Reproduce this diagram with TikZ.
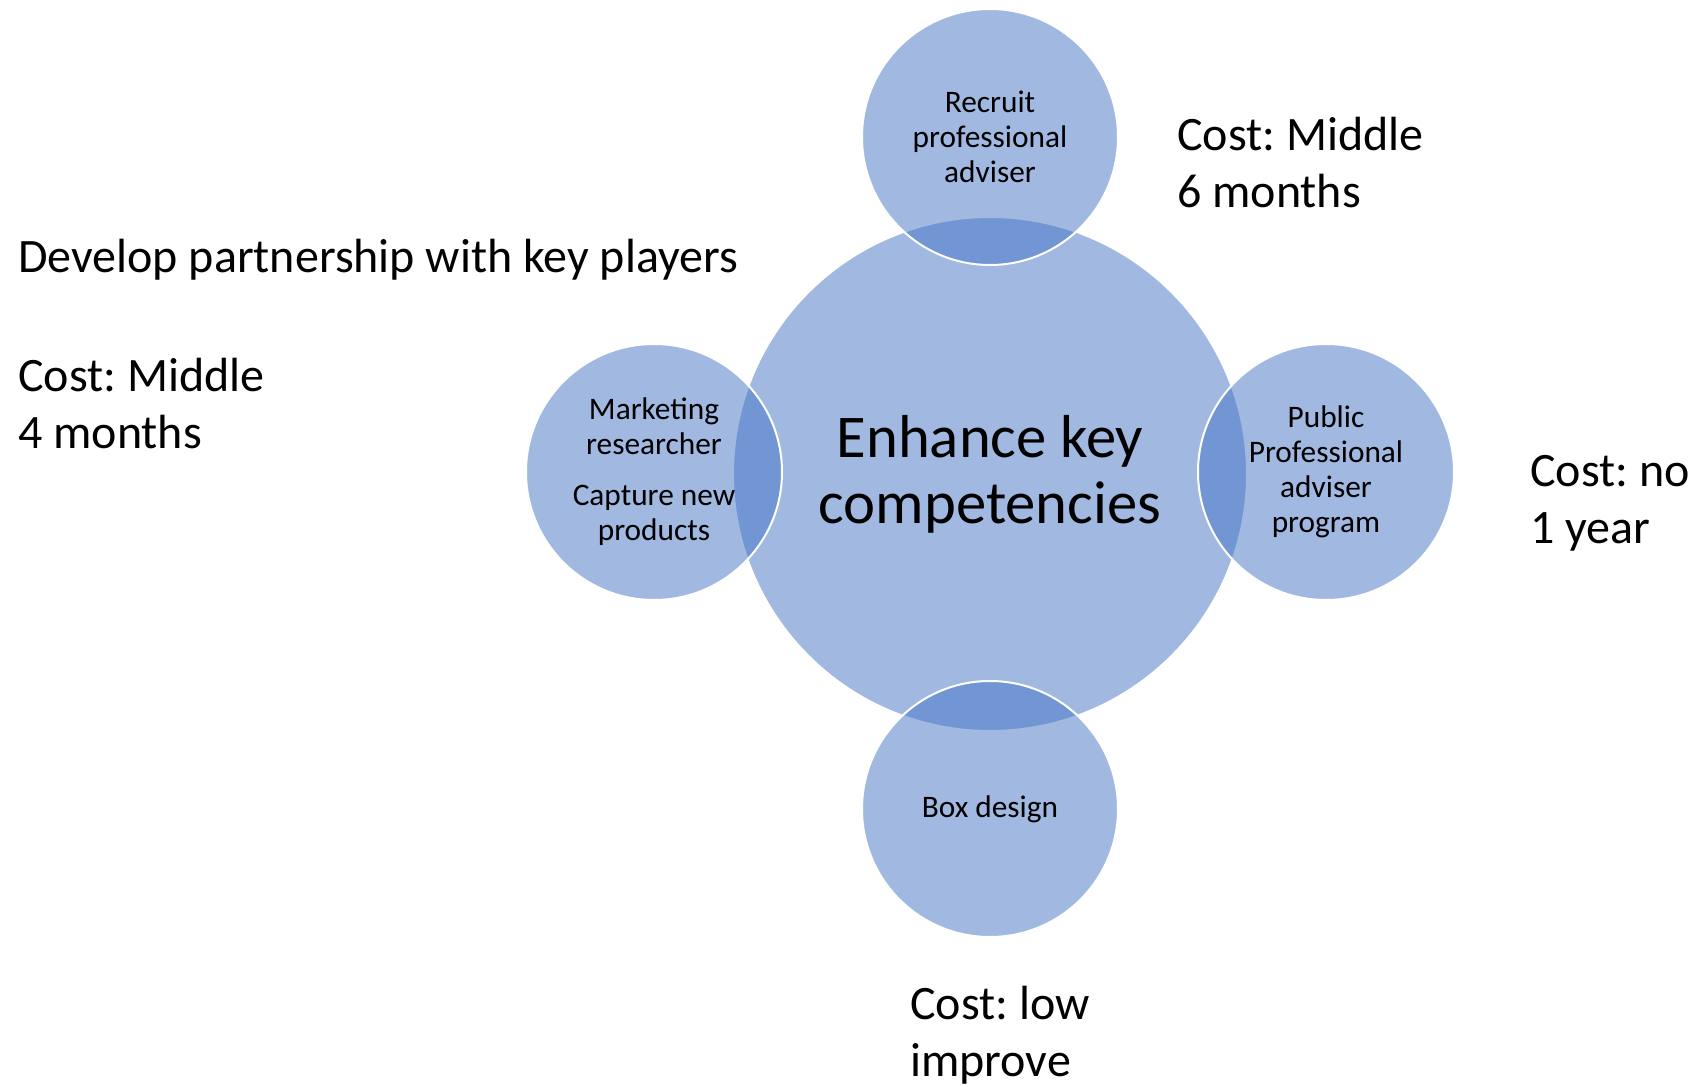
\documentclass[tikz,border=0pt]{standalone}
\usepackage{fontspec}
\setmainfont{Carlito}
\frenchspacing
\definecolor{vennblue}{RGB}{68,114,196}
\tikzset{
  venn/.style={circle, fill=vennblue, fill opacity=0.5, text opacity=1, draw=white, line width=1.5pt, align=center, inner sep=0pt},
  bigvenn/.style={venn, minimum size=385.5pt, font=\fontsize{45.5}{49.5}\selectfont},
  smallvenn/.style={venn, minimum size=192pt, font=\fontsize{23.5}{26.2}\selectfont},
  note/.style={anchor=west, align=left, inner sep=0pt, font=\fontsize{36}{42.75}\selectfont}
}
\begin{document}
\begin{tikzpicture}[x=0.75pt,y=-0.75pt]
\useasboundingbox (0,0) rectangle (1696,1087);
\node[bigvenn] (core) at (990,474) {Enhance key\\competencies};
\node[smallvenn] (recruit) at (990,137) {Recruit\\professional\\adviser};
\node[smallvenn] (market) at (654,472) {Marketing\\researcher\\[12pt]Capture new\\products};
\node[smallvenn] (public) at (1326,472) {Public\\Professional\\adviser\\program};
\node[smallvenn] (box) at (990,809) {Box design};
\node[note] (partner) at (18,260) {Develop partnership with key players};
\node[note] (costleft) at (18,404) {Cost: Middle\\4 months};
\node[note] (costtop) at (1177,163) {Cost: Middle\\6 months};
\node[note] (costright) at (1530,503) {Cost: no\\1 year};
\node[note] (costbottom) at (910,1035) {Cost: low\\improve};
\end{tikzpicture}
\end{document}
